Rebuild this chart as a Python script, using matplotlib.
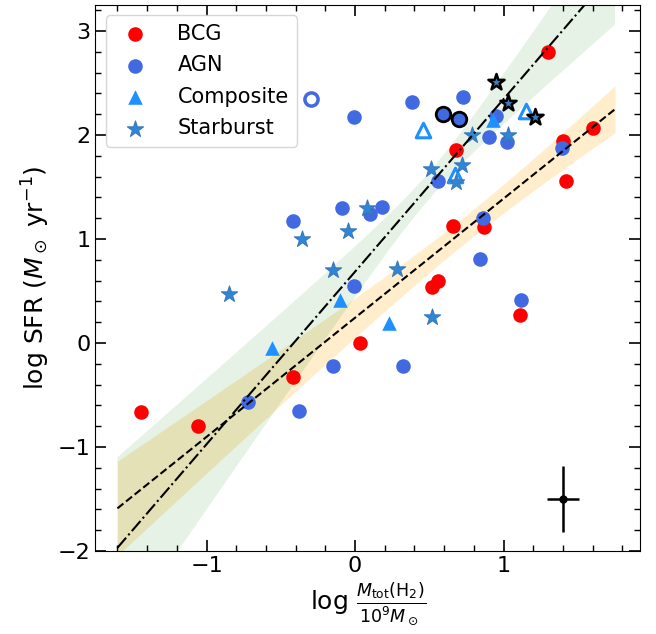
import numpy as np
import matplotlib.pyplot as plt

plt.rcParams['font.size'] = 16
plt.rcParams['mathtext.fontset'] = 'dejavusans'

# log M(H2)/1e9 Msun, log SFR
bcg_x = [-1.44, -1.06, -0.42, 0.03, 0.52, 0.56, 0.66, 0.87, 1.11, 0.68, 1.30, 1.40, 1.42, 1.60]
bcg_y = [-0.66, -0.80, -0.33, 0.00, 0.54, 0.60, 1.13, 1.12, 0.27, 1.86, 2.80, 1.94, 1.56, 2.07]

agn_x = [-0.72, -0.38, -0.15, 0.32, -0.01, -0.42, -0.09, 0.10, 0.18, 0.84, 0.86, 1.12,
         0.56, 0.90, 1.02, 0.95, 1.39, 0.38, 0.73, -0.01]
agn_y = [-0.57, -0.65, -0.22, -0.22, 0.55, 1.17, 1.30, 1.24, 1.31, 0.81, 1.20, 0.41,
         1.56, 1.98, 1.93, 2.18, 1.88, 2.32, 2.37, 2.17]
agn_hl_x = [0.59, 0.70]
agn_hl_y = [2.20, 2.15]
agn_open_x = [-0.30]
agn_open_y = [2.35]

comp_x = [-0.56, -0.10, 0.23, 0.93]
comp_y = [-0.05, 0.41, 0.19, 2.14]
comp_open_x = [0.46, 0.67, 1.15]
comp_open_y = [2.05, 1.62, 2.23]

sb_x = [-0.85, -0.36, -0.15, -0.05, 0.08, 0.28, 0.52, 0.51, 0.72, 0.68, 0.79, 1.03]
sb_y = [0.47, 1.00, 0.70, 1.08, 1.30, 0.71, 0.25, 1.67, 1.71, 1.55, 2.00, 2.00]
sb_hl_x = [0.95, 1.03, 1.21]
sb_hl_y = [2.51, 2.31, 2.17]

# linear fits: slope, intercept, band pivot, band width at pivot, slope error
fit_all = dict(m=1.146, b=0.243, x0=0.75, w0=0.13, dm=0.185)
fit_sf = dict(m=1.66, b=0.686, x0=0.50, w0=0.13, dm=0.41)
fit_range = (-1.6, 1.75)

# typical uncertainty
err_x, err_y = 1.40, -1.50
err_dx, err_dy = 0.11, 0.32

fig = plt.figure(figsize=(6.56, 6.34), dpi=100)
ax = fig.add_axes([0.145, 0.131, 0.831, 0.861])

xx = np.linspace(fit_range[0], fit_range[1], 200)
for fit, col, alpha, ls in [(fit_all, 'orange', 0.2, '--'), (fit_sf, 'green', 0.1, '-.')]:
    yy = fit['m'] * xx + fit['b']
    w = np.sqrt(fit['w0']**2 + (fit['dm'] * (xx - fit['x0']))**2)
    ax.fill_between(xx, yy - w, yy + w, color=col, alpha=alpha, lw=0, zorder=1)
    ax.plot(xx, yy, ls=ls, color='k', lw=1.5, zorder=5)

ms = 110
ax.scatter(bcg_x, bcg_y, s=ms, c='red', lw=0, zorder=2, label='BCG')
ax.scatter(agn_x, agn_y, s=ms, c='royalblue', lw=0, zorder=2, label='AGN')
ax.scatter(agn_hl_x, agn_hl_y, s=ms, c='royalblue', edgecolors='k', lw=2, zorder=2)
ax.scatter(agn_open_x, agn_open_y, s=90, facecolors='white', edgecolors='royalblue', lw=2.5, zorder=2)
ax.scatter(comp_x, comp_y, s=ms, marker='^', c='dodgerblue', lw=0, zorder=3, label='Composite')
ax.scatter(comp_open_x, comp_open_y, s=110, marker='^', facecolors='white',
           edgecolors='dodgerblue', lw=2.2, zorder=3)
ax.scatter(sb_x, sb_y, s=150, marker='*', c='#2f86d6', edgecolors='#3a78b8', lw=0.8,
           zorder=4, label='Starburst')
ax.scatter(sb_hl_x, sb_hl_y, s=150, marker='*', c='#3a7fc0', edgecolors='k', lw=1.8, zorder=4)

ax.errorbar(err_x, err_y, xerr=err_dx, yerr=err_dy, fmt='o', color='k', ms=5,
            elinewidth=1.8, capsize=0, zorder=6)

ax.set_xlim(-1.75, 1.92)
ax.set_ylim(-2, 3.25)
ax.set_xticks([-1, 0, 1])
ax.set_yticks([-2, -1, 0, 1, 2, 3])
ax.minorticks_on()
ax.tick_params(which='both', direction='in', top=True, right=True)
ax.tick_params(which='major', length=8, width=1.2)
ax.tick_params(which='minor', length=4, width=1)

ax.set_xlabel(r'log $\frac{M_{\rm tot}({\rm H_2})}{10^9 M_\odot}$', fontsize=18)
ax.set_ylabel(r'log SFR ($M_\odot$ yr$^{-1}$)', fontsize=18)

ax.legend(loc='upper left', fontsize=15, scatterpoints=1, handletextpad=1.05,
          labelspacing=0.55)

plt.savefig('out.png', dpi=100)
